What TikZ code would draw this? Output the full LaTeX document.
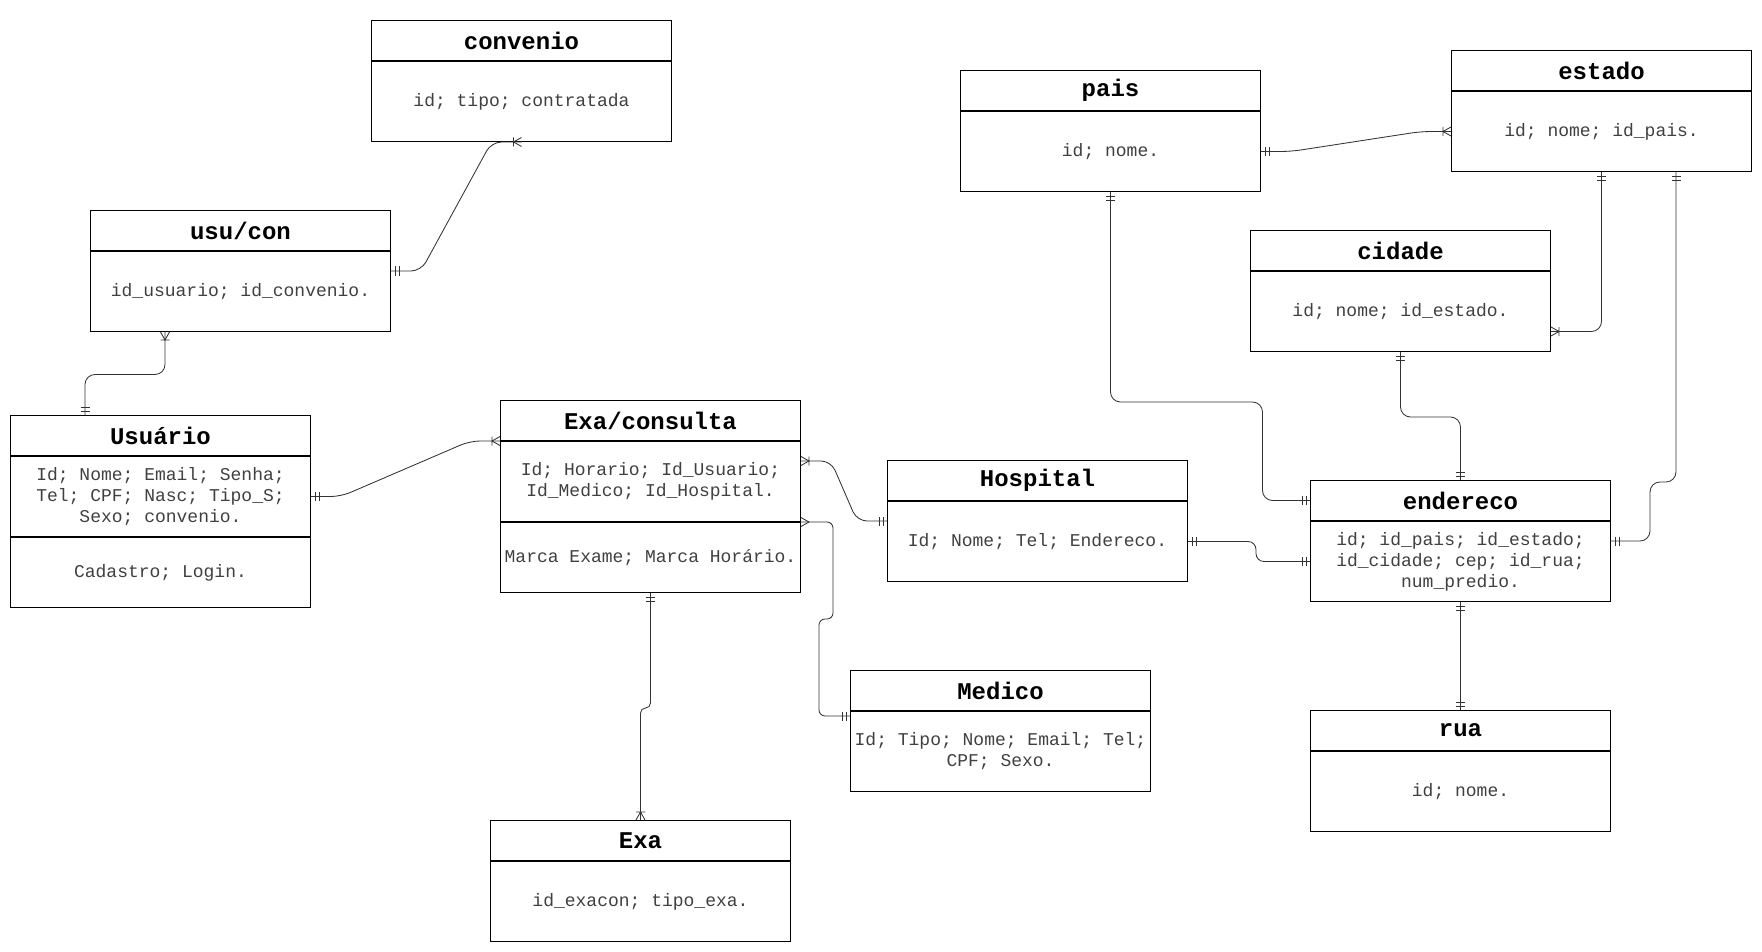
\documentclass[tikz,border=0pt]{standalone}
\usepackage{fontspec}
\usetikzlibrary{calc}
\newfontfamily\cour{Liberation Mono}
\newcommand\ttlfont{\cour\bfseries\fontsize{24pt}{28pt}\selectfont}
\newcommand\bdyfont{\cour\fontsize{18pt}{21pt}\selectfont}

\pgfdeclarearrow{
  name = ERone,
  setup code = {
    \pgfarrowssettipend{0pt}
    \pgfarrowssetlineend{0pt}
    \pgfarrowssetbackend{-9pt}
    \pgfarrowshullpoint{0pt}{5pt}
    \pgfarrowshullpoint{0pt}{-5pt}
    \pgfarrowshullpoint{-9pt}{5pt}
    \pgfarrowshullpoint{-9pt}{-5pt}
  },
  drawing code = {
    \pgfsetdash{}{0pt}
    \pgfpathmoveto{\pgfpoint{-4pt}{-4.5pt}}
    \pgfpathlineto{\pgfpoint{-4pt}{4.5pt}}
    \pgfpathmoveto{\pgfpoint{-8pt}{-4.5pt}}
    \pgfpathlineto{\pgfpoint{-8pt}{4.5pt}}
    \pgfusepathqstroke
  }
}
\pgfdeclarearrow{
  name = ERcrow,
  setup code = {
    \pgfarrowssettipend{0pt}
    \pgfarrowssetlineend{0pt}
    \pgfarrowssetbackend{-9pt}
    \pgfarrowshullpoint{0pt}{5pt}
    \pgfarrowshullpoint{0pt}{-5pt}
    \pgfarrowshullpoint{-9pt}{5pt}
    \pgfarrowshullpoint{-9pt}{-5pt}
  },
  drawing code = {
    \pgfsetdash{}{0pt}
    \pgfpathmoveto{\pgfpoint{-8pt}{-4.5pt}}
    \pgfpathlineto{\pgfpoint{-8pt}{4.5pt}}
    \pgfpathmoveto{\pgfpoint{0pt}{4.5pt}}
    \pgfpathlineto{\pgfpoint{-8pt}{0pt}}
    \pgfpathlineto{\pgfpoint{0pt}{-4.5pt}}
    \pgfusepathqstroke
  }
}
\pgfdeclarearrow{
  name = ERmany,
  setup code = {
    \pgfarrowssettipend{0pt}
    \pgfarrowssetlineend{0pt}
    \pgfarrowssetbackend{-9pt}
    \pgfarrowshullpoint{0pt}{5pt}
    \pgfarrowshullpoint{0pt}{-5pt}
    \pgfarrowshullpoint{-9pt}{0pt}
  },
  drawing code = {
    \pgfsetdash{}{0pt}
    \pgfpathmoveto{\pgfpoint{0pt}{4.5pt}}
    \pgfpathlineto{\pgfpoint{-8pt}{0pt}}
    \pgfpathlineto{\pgfpoint{0pt}{-4.5pt}}
    \pgfusepathqstroke
  }
}

\tikzset{
  ttl/.style={draw, line width=1pt, minimum width=300pt, minimum height=40pt,
    anchor=north west, inner sep=0pt, font=\ttlfont},
  bdy/.style={draw, line width=1pt, minimum width=300pt, minimum height=80pt,
    anchor=north, inner sep=0pt, align=center, font=\bdyfont, text=black!75},
  mth/.style={bdy, minimum height=70pt},
  conn/.style={line width=0.85pt, draw=black!80, rounded corners=10pt},
}

\begin{document}
\begin{tikzpicture}[x=1pt, y=-1pt]
\useasboundingbox (0,0) rectangle (1762,952);

% convenio
\node[ttl] (conv-t) at (371,20) {convenio};
\node[bdy] (conv-b) at (conv-t.south) {id; tipo; contratada};
% usu/con
\node[ttl] (usucon-t) at (90,210) {usu/con};
\node[bdy] (usucon-b) at (usucon-t.south) {id\_usuario; id\_convenio.};
% Usuario
\node[ttl] (usu-t) at (10,415) {Usuário};
\node[bdy] (usu-a) at (usu-t.south) {Id; Nome; Email; Senha;\\Tel; CPF; Nasc; Tipo\_S;\\Sexo; convenio.};
\node[mth] (usu-m) at (usu-a.south) {Cadastro; Login.};
% Exa/consulta
\node[ttl] (exac-t) at (500,400) {Exa/consulta};
\node[bdy] (exac-a) at (exac-t.south) {Id; Horario; Id\_Usuario;\\Id\_Medico; Id\_Hospital.};
\node[mth] (exac-m) at (exac-a.south) {Marca Exame; Marca Horário.};
% Hospital
\node[ttl] (hosp-t) at (887,460) {Hospital};
\node[bdy] (hosp-b) at (hosp-t.south) {Id; Nome; Tel; Endereco.};
% Medico
\node[ttl] (med-t) at (850,670) {Medico};
\node[bdy] (med-b) at (med-t.south) {Id; Tipo; Nome; Email; Tel;\\CPF; Sexo.};
% Exa
\node[ttl] (exa-t) at (490,820) {Exa};
\node[bdy] (exa-b) at (exa-t.south) {id\_exacon; tipo\_exa.};
% pais
\node[ttl] (pais-t) at (960,70) {pais};
\node[bdy] (pais-b) at (pais-t.south) {id; nome.};
% estado
\node[ttl] (est-t) at (1451,50) {estado};
\node[bdy] (est-b) at (est-t.south) {id; nome; id\_pais.};
% cidade
\node[ttl] (cid-t) at (1250,230) {cidade};
\node[bdy] (cid-b) at (cid-t.south) {id; nome; id\_estado.};
% endereco
\node[ttl] (endr-t) at (1310,480) {endereco};
\node[bdy] (endr-b) at (endr-t.south) {id; id\_pais; id\_estado;\\id\_cidade; cep; id\_rua;\\num\_predio.};
% rua
\node[ttl] (rua-t) at (1310,710) {rua};
\node[bdy] (rua-b) at (rua-t.south) {id; nome.};

% connectors
\draw[conn, ERone-ERcrow] ($(usucon-t.south east)+(0,20)$) -- ++(30,0)
  -- ($(conv-b.south)+(-30,0)$) -- (conv-b.south);
\draw[conn, ERcrow-ERone] ($(usucon-b.south west)+(75,0)$) -- ++(0,42.5)
  -| ($(usu-t.north west)+(75,0)$);
\draw[conn, ERone-ERcrow] (usu-a.east) -- ++(30,0)
  -- ($(exac-t.south west)+(-30,0)$) -- (exac-t.south west);
\draw[conn, ERcrow-ERone] ($(exac-a.north east)+(0,20)$) -- ++(30,0)
  -- ($(hosp-t.south west)+(-30,20)$) -- ($(hosp-t.south west)+(0,20)$);
\draw[conn, rounded corners=6pt, ERmany-ERone] (exac-a.south east) -- ++(32,0)
  -- ++(0,97) -- ++(-14,0) |- ($(med-t.south west)+(0,5)$);
\draw[conn, rounded corners=5pt, ERone-ERcrow] (exac-m.south) -- ++(0,115) -| (exa-t.north);
\draw[conn, rounded corners=8pt, ERone-ERone] (hosp-b.east) -- ++(68,0) |- (endr-b.west);
\draw[conn, ERone-ERcrow] (pais-b.east) -- ++(30,0)
  -- ($(est-b.west)+(-30,0)$) -- (est-b.west);
\draw[conn, ERone-ERone] (pais-b.south) -- ++(0,210) -- ++(152,0) |- (endr-t.west);
\draw[conn, ERone-ERone] (cid-b.south) -- ++(0,65) -| (endr-t.north);
\draw[conn, ERone-ERcrow] (est-b.south) |- ($(cid-b.east)+(0,20)$);
\draw[conn, ERone-ERone] ($(est-b.south west)+(225,0)$) -- ++(0,310) -- ++(-26,0)
  |- ($(endr-b.north east)+(0,20)$);
\draw[conn, ERone-ERone] (endr-b.south) -- (rua-t.north);
\end{tikzpicture}
\end{document}
